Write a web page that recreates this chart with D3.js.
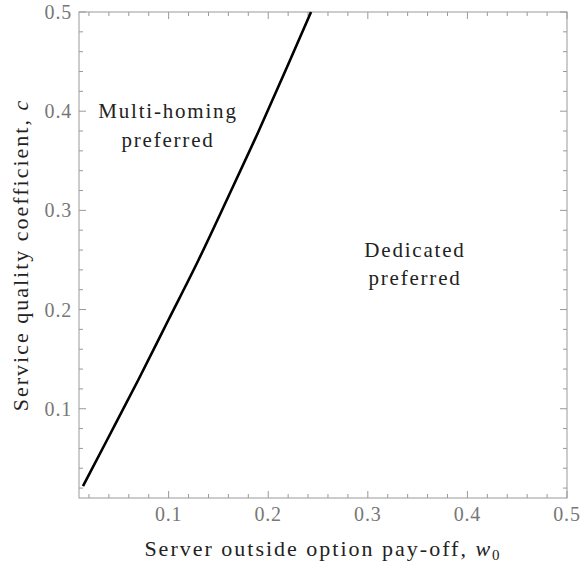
<!doctype html>
<html>
<head>
<meta charset="utf-8">
<style>
  body { margin: 0; background: #fff; }
  text { font-family: "Liberation Serif", "DejaVu Serif", serif; }
  .tick-label { fill: #777; font-size: 20px; letter-spacing: 0.8px; }
  .region { fill: #222; font-size: 21px; letter-spacing: 1.8px; text-anchor: middle; }
  .title { fill: #222; font-size: 22px; letter-spacing: 2px; text-anchor: middle; }
</style>
<script src="https://cdn.jsdelivr.net/npm/d3@7"></script>
</head>
<body>
<svg width="580" height="566"></svg>
<script>
// boundary curve: server outside option pay-off w0 vs service quality c
var w0 = [0.014, 0.04, 0.07, 0.10, 0.13, 0.16, 0.19, 0.22, 0.243];
var cVals = [0.022, 0.072, 0.130, 0.190, 0.250, 0.314, 0.379, 0.447, 0.5];

var xMajor = [0.1, 0.2, 0.3, 0.4, 0.5];
var yMajor = [0.1, 0.2, 0.3, 0.4, 0.5];
var xMinor = [0.02, 0.04, 0.06, 0.08, 0.12, 0.14, 0.16, 0.18, 0.22, 0.24, 0.26, 0.28,
              0.32, 0.34, 0.36, 0.38, 0.42, 0.44, 0.46, 0.48];
var yMinor = xMinor;

var svg = d3.select("svg");
var mLeft = 79, mRight = 567, mTop = 12, mBottom = 498;

var x = d3.scaleLinear().domain([0.01, 0.5]).range([mLeft, mRight]);
var y = d3.scaleLinear().domain([0.01, 0.5]).range([mBottom, mTop]);

var frame = "#999";

// ticks, pointing inward on all four sides
function ticks(xs, ys, len) {
  xs.forEach(function(v) {
    svg.append("line").attr("x1", x(v)).attr("x2", x(v)).attr("y1", mBottom).attr("y2", mBottom - len).attr("stroke", frame);
    svg.append("line").attr("x1", x(v)).attr("x2", x(v)).attr("y1", mTop).attr("y2", mTop + len).attr("stroke", frame);
  });
  ys.forEach(function(v) {
    svg.append("line").attr("y1", y(v)).attr("y2", y(v)).attr("x1", mLeft).attr("x2", mLeft + len).attr("stroke", frame);
    svg.append("line").attr("y1", y(v)).attr("y2", y(v)).attr("x1", mRight).attr("x2", mRight - len).attr("stroke", frame);
  });
}
ticks(xMinor, yMinor, 4);
ticks(xMajor, yMajor, 7);

svg.append("rect")
  .attr("x", mLeft).attr("y", mTop)
  .attr("width", mRight - mLeft).attr("height", mBottom - mTop)
  .attr("fill", "none").attr("stroke", frame).attr("stroke-width", 1);

xMajor.forEach(function(v) {
  svg.append("text").attr("class", "tick-label")
    .attr("x", x(v)).attr("y", mBottom + 23)
    .attr("text-anchor", "middle").text(v);
});
yMajor.forEach(function(v) {
  svg.append("text").attr("class", "tick-label")
    .attr("x", mLeft - 7).attr("y", y(v) + 7)
    .attr("text-anchor", "end").text(v);
});

// boundary line
var line = d3.line()
  .x(function(d, i) { return x(w0[i]); })
  .y(function(d, i) { return y(cVals[i]); })
  .curve(d3.curveMonotoneX);

svg.append("path")
  .datum(w0)
  .attr("d", line)
  .attr("fill", "none")
  .attr("stroke", "#000")
  .attr("stroke-width", 2.6);

// region labels
svg.append("text").attr("class", "region").attr("x", 168).attr("y", 118).text("Multi-homing");
svg.append("text").attr("class", "region").attr("x", 168).attr("y", 147).text("preferred");
svg.append("text").attr("class", "region").attr("x", 415).attr("y", 257).text("Dedicated");
svg.append("text").attr("class", "region").attr("x", 415).attr("y", 285).text("preferred");

// axis titles
var xt = svg.append("text").attr("class", "title")
  .attr("x", (mLeft + mRight) / 2).attr("y", 556);
xt.append("tspan").text("Server outside option pay-off, ");
xt.append("tspan").attr("font-style", "italic").text("w");
xt.append("tspan").attr("font-size", "15px").attr("dy", 4).text("0");

var yt = svg.append("text").attr("class", "title")
  .attr("transform", "translate(28," + ((mTop + mBottom) / 2) + ") rotate(-90)");
yt.append("tspan").text("Service quality coefficient, ");
yt.append("tspan").attr("font-style", "italic").text("c");
</script>
</body>
</html>
